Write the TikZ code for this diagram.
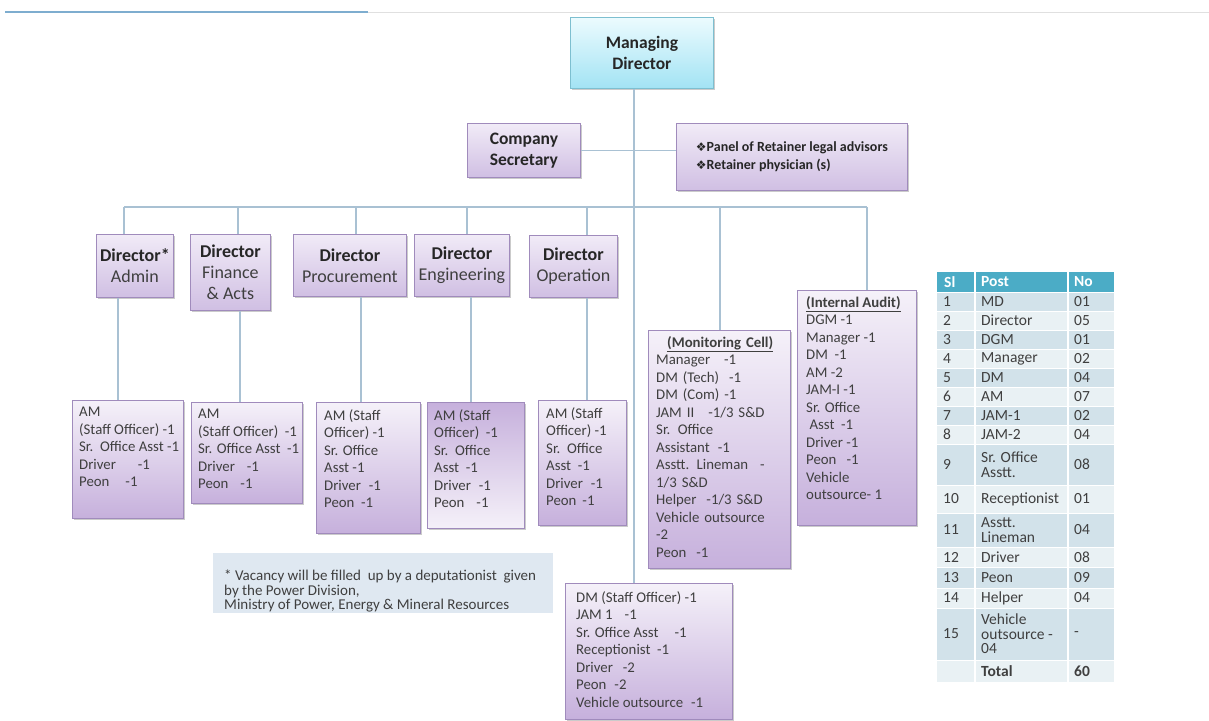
\documentclass[tikz,border=0pt]{standalone}
\usepackage{fontspec}
\setmainfont{Carlito}
\newfontfamily\djv{DejaVu Sans}
\usetikzlibrary{shadows}
\definecolor{lineC}{HTML}{A9C1D3}
\definecolor{boxB}{HTML}{A08BBC}
\definecolor{boxT}{HTML}{F5F1F9}
\definecolor{boxBot}{HTML}{C6B0DC}
\definecolor{dirT}{HTML}{F1EBF7}
\definecolor{dirBot}{HTML}{D0BFE3}
\definecolor{mdT}{HTML}{ECFBFE}
\definecolor{mdB}{HTML}{A2E3F4}
\definecolor{mdBorder}{HTML}{7DBFD0}
\definecolor{txt}{HTML}{3F3F3F}
\definecolor{dtxt}{HTML}{262626}
\definecolor{noteC}{HTML}{DFE8F1}
\definecolor{headC}{HTML}{4BACC6}
\definecolor{rowA}{HTML}{D2E2EA}
\definecolor{rowB}{HTML}{E9F1F4}
\definecolor{topBlue}{HTML}{7EADCF}
\begin{document}
\begin{tikzpicture}[x=1pt,y=-1pt,
  conn/.style={draw=lineC, line width=1.3pt},
  shad/.style={drop shadow={shadow xshift=1.5pt,shadow yshift=-1.5pt,fill=black!45,opacity=.45}},
  sbox/.style={draw=boxB, line width=0.8pt, top color=boxT, bottom color=boxBot, anchor=north west, inner sep=0pt, shad},
  dbox/.style={draw=boxB, line width=0.8pt, top color=dirT, bottom color=dirBot, anchor=north west, inner sep=0pt, align=center, text=txt, font=\fontsize{18}{21}\selectfont, shad},
  stext/.style={anchor=north west, inner sep=0pt, align=left, text=txt, font=\fontsize{14.8}{17.5}\selectfont},
  ttext/.style={anchor=west, inner sep=0pt, align=left, text=txt, font=\fontsize{15.5}{14.5}\selectfont},
  htext/.style={anchor=west, inner sep=0pt, text=white, font=\bfseries\fontsize{15.5}{14.5}\selectfont}
]
\useasboundingbox (0,0) rectangle (1209,720);
% top rule
\coordinate (tl1) at (5,12); \coordinate (tl2) at (368,12); \coordinate (tl3) at (1209,12);
\draw[topBlue, line width=2pt] (tl1) -- (tl2);
\draw[black!12, line width=0.6pt] (tl2) -- (tl3);

% Managing director
\node[draw=mdBorder, line width=0.8pt, top color=mdT, bottom color=mdB, anchor=north west, inner sep=0pt,
  minimum width=143pt, minimum height=71pt, align=center, text=dtxt, font=\bfseries\fontsize{17.5}{21}\selectfont, shad]
  (md) at (570,17) {Managing\\Director};

% second level
\node[dbox, minimum width=113pt, minimum height=54pt, font=\bfseries\fontsize{17.5}{21}\selectfont, text=dtxt] (cs) at (467,123) {Company\\Secretary};
\node[dbox, minimum width=231pt, minimum height=67pt, align=left, font=\bfseries\fontsize{14}{18}\selectfont, text=dtxt] (pan) at (676,123)
  {{\djv\fontsize{12}{12}\selectfont ❖}Panel of Retainer legal advisors\\{\djv\fontsize{12}{12}\selectfont ❖}Retainer physician (s)};

% directors
\node[dbox, minimum width=77pt, minimum height=63pt] (dadm) at (96,234) {\textbf{\color{dtxt}Director*}\\Admin};
\node[dbox, minimum width=80pt, minimum height=76pt] (dfin) at (190,234) {\textbf{\color{dtxt}Director}\\Finance\\\& Acts};
\node[dbox, minimum width=113pt, minimum height=62pt] (dpro) at (293,234) {\textbf{\color{dtxt}Director}\\Procurement};
\node[dbox, minimum width=95pt, minimum height=62pt] (deng) at (414,234) {\textbf{\color{dtxt}Director}\\Engineering};
\node[dbox, minimum width=88pt, minimum height=62pt] (dope) at (529,235) {\textbf{\color{dtxt}Director}\\Operation};

% staff boxes
\node[sbox, minimum width=111pt, minimum height=118pt] (sadm) at (72,400) {};
\node[sbox, minimum width=111pt, minimum height=101pt] (sfin) at (191,402) {};
\node[sbox, minimum width=104pt, minimum height=131pt] (spro) at (316,402) {};
\node[sbox, minimum width=97pt, minimum height=126pt, top color=boxBot, bottom color=boxT] (seng) at (427,402) {};
\node[sbox, minimum width=88pt, minimum height=125pt] (sope) at (538,400) {};
\node[sbox, minimum width=142pt, minimum height=238pt] (smon) at (648,330) {};
\node[sbox, minimum width=119pt, minimum height=235pt] (saud) at (797,290) {};
\node[sbox, minimum width=167pt, minimum height=136pt] (sdm) at (565,583) {};

\node[stext] (tadm) at ([xshift=7pt,yshift=-7pt]sadm.north west)
  {AM\\(Staff Officer) -1\\Sr.\ \ Office Asst -1\\Driver\hspace{22pt}-1\\Peon\hspace{16pt}-1};
\node[stext] (tfin) at ([xshift=7pt,yshift=-7pt]sfin.north west)
  {AM\\(Staff Officer)\ \ -1\\Sr. Office Asst\ \ -1\\Driver\hspace{12pt}-1\\Peon\hspace{12pt}-1};
\node[stext] (tpro) at ([xshift=8pt,yshift=-7pt]spro.north west)
  {AM (Staff\\Officer) -1\\Sr. Office\\Asst -1\\Driver\hspace{8pt}-1\\Peon\ \ -1};
\node[stext] (teng) at ([xshift=7pt,yshift=-7pt]seng.north west)
  {AM (Staff\\Officer)\ \ -1\\Sr.\ \ Office\\Asst\ \ -1\\Driver\hspace{8pt}-1\\Peon\hspace{12pt}-1};
\node[stext] (tope) at ([xshift=8pt,yshift=-7pt]sope.north west)
  {AM (Staff\\Officer) -1\\Sr.\ \ Office\\Asst\ \ -1\\Driver\hspace{8pt}-1\\Peon\hspace{6pt}-1};
\node[stext, text width=128pt] (tmon) at ([xshift=8pt,yshift=-6pt]smon.north west)
  {\centering\textbf{\underline{(Monitoring Cell)}}\par\raggedright
   Manager\hspace{14pt}-1\\DM (Tech)\ \ -1\\DM (Com) -1\\JAM II\hspace{14pt}-1/3 S\&D\\Sr. Office\\Assistant\hspace{8pt}-1\\Asstt. Lineman\hspace{12pt}-\\1/3 S\&D\\Helper\hspace{10pt}-1/3 S\&D\\Vehicle outsource\\-2\\Peon\ \ -1};
\node[stext] (taud) at ([xshift=9pt,yshift=-6pt]saud.north west)
  {\textbf{\underline{(Internal Audit)}}\\DGM -1\\Manager -1\\DM\ \ -1\\AM -2\\JAM-I -1\\Sr. Office\\\ Asst\ \ -1\\Driver -1\\Peon\ \ \ -1\\Vehicle\\outsource- 1};
\node[stext] (tdm) at ([xshift=11pt,yshift=-8pt]sdm.north west)
  {DM (Staff Officer) -1\\JAM 1\hspace{12pt}-1\\Sr. Office Asst\hspace{16pt}-1\\Receptionist\ \ -1\\Driver\hspace{10pt}-2\\Peon\hspace{8pt}-2\\Vehicle outsource\hspace{8pt}-1};

% note
\node[fill=noteC, anchor=north west, minimum width=340pt, minimum height=60pt, inner sep=0pt] (note) at (213,553) {};
\node[anchor=north west, inner sep=0pt, align=left, text=txt, font=\fontsize{15}{14.5}\selectfont] (notet) at ([xshift=11pt,yshift=-17pt]note.north west)
  {* Vacancy will be filled\ \ up by a deputationist\ \ given\\by the Power Division,\\Ministry of Power, Energy \& Mineral Resources};

% connectors
\coordinate (mdx) at (634,0);
\draw[conn] (md.south -| mdx) -- (sdm.north -| mdx);
\draw[conn] (cs.east) -- (cs.east -| pan.west);
\coordinate (b1) at (124,207); \coordinate (b2) at (238,207); \coordinate (b3) at (356,207);
\coordinate (b4) at (467,207); \coordinate (b5) at (587,207); \coordinate (b6) at (720,207);
\coordinate (b7) at (867,207);
\draw[conn] (b1) -- (b7);
\draw[conn] (b1) -- (b1 |- dadm.north);
\draw[conn] (b2) -- (b2 |- dfin.north);
\draw[conn] (b3) -- (b3 |- dpro.north);
\draw[conn] (b4) -- (b4 |- deng.north);
\draw[conn] (b5) -- (b5 |- dope.north);
\draw[conn] (b6) -- (b6 |- smon.north);
\draw[conn] (b7) -- (b7 |- saud.north);
\coordinate (c1) at (118,0); \coordinate (c2) at (240,0); \coordinate (c3) at (361,0);
\coordinate (c4) at (471,0); \coordinate (c5) at (587,0);
\draw[conn] (dadm.south -| c1) -- (sadm.north -| c1);
\draw[conn] (dfin.south -| c2) -- (sfin.north -| c2);
\draw[conn] (dpro.south -| c3) -- (spro.north -| c3);
\draw[conn] (deng.south -| c4) -- (seng.north -| c4);
\draw[conn] (dope.south -| c5) -- (sope.north -| c5);

% table
\fill[headC] (937,272) rectangle (1114,292);
\node[htext] (hsl) at (944,282) {Sl};
\node[htext] (hpost) at (981,282) {Post};
\node[htext] (hno) at (1074,282) {No};
\foreach \t/\b/\n/\p/\c/\f in {
  292/311/1/MD/01/rowA, 311/330/2/Director/05/rowB, 330/349/3/DGM/01/rowA,
  349/368/4/Manager/02/rowB, 368/387/5/DM/04/rowA, 387/406/6/AM/07/rowB,
  406/425/7/JAM-1/02/rowA, 425/444/8/JAM-2/04/rowB, 444/485/9/{Sr. Office\\Asstt.}/08/rowA,
  485/513/10/Receptionist/01/rowB, 513/547/11/{Asstt.\\Lineman}/04/rowA,
  547/567/12/Driver/08/rowB, 567/588/13/Peon/09/rowA, 588/608/14/Helper/04/rowB,
  608/660/15/{Vehicle\\outsource -\\04}/-/rowA}{
  \fill[\f] (937,\t) rectangle (1114,\b);
  \node[ttext] (sl\n) at (943,{(\t+\b)/2}) {\n};
  \node[ttext] (post\n) at (981,{(\t+\b)/2}) {\p};
  \node[ttext] (no\n) at (1074,{(\t+\b)/2}) {\c};
}
\fill[rowB] (937,660) rectangle (1114,682);
\node[ttext, font=\bfseries\fontsize{15.5}{14.5}\selectfont] (tot) at (981,671) {Total};
\node[ttext, font=\bfseries\fontsize{15.5}{14.5}\selectfont] (totn) at (1074,671) {60};
\foreach \yy in {292,311,330,349,368,387,406,425,444,485,513,547,567,588,608,660}
  \draw[white, line width=0.8pt] (937,\yy) -- (1114,\yy);
\draw[white, line width=1.2pt] (975,272) -- (975,682);
\draw[white, line width=1.2pt] (1068,272) -- (1068,682);
\end{tikzpicture}
\end{document}
